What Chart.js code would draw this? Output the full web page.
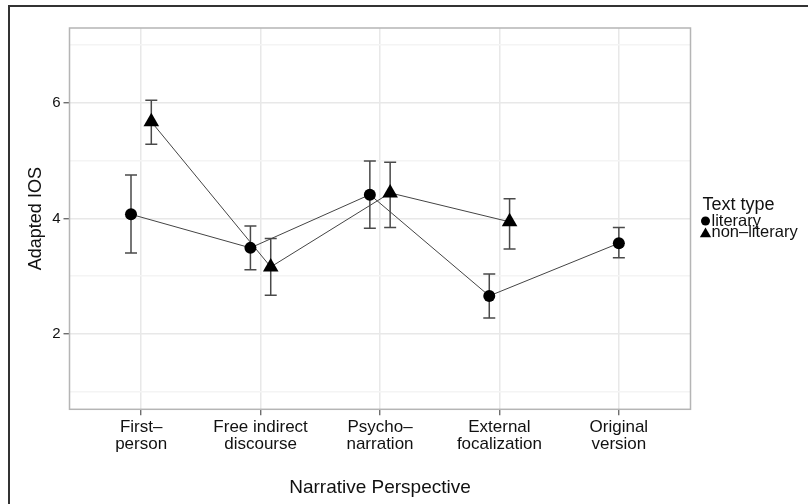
<!DOCTYPE html>
<html>
<head>
<meta charset="utf-8">
<script src="https://cdn.jsdelivr.net/npm/chart.js@4.4.0/dist/chart.umd.min.js"></script>
<style>
html, body { margin: 0; padding: 0; background: #fff; }
#wrap { position: relative; width: 808px; height: 504px; overflow: hidden; }
#frame { position: absolute; left: 8px; top: 5px; width: 820px; height: 520px; border-left: 2px solid #333; border-top: 2px solid #333; }
canvas { position: absolute; left: 0; top: 0; }
</style>
</head>
<body>
<div id="wrap"><div id="frame"></div><canvas id="iosChart" width="808" height="504"></canvas></div>
<script>
var categories = [["First–", "person"], ["Free indirect", "discourse"], ["Psycho–", "narration"], ["External", "focalization"], ["Original", "version"]];
var literary = [4.07, 3.49, 4.41, 2.66, 3.57];
var literaryLow = [3.40, 3.11, 3.83, 2.28, 3.32];
var literaryHigh = [4.75, 3.87, 4.99, 3.04, 3.84];
var nonLiterary = [5.67, 3.16, 4.44, 3.94, null];
var nonLiteraryLow = [5.28, 2.67, 3.84, 3.47, null];
var nonLiteraryHigh = [6.04, 3.65, 4.97, 4.34, null];
var yTicks = [1, 2, 3, 4, 5, 6, 7];
var yLabels = [2, 4, 6];

var FONT = '"Liberation Sans", Arial, sans-serif';
var TEXT = '#111';
Chart.defaults.font.family = FONT;

// dodge the two groups apart where both have a value
var dodge = 0.085;
function points(values, side) {
  return values.map(function (v, i) {
    var both = literary[i] != null && nonLiterary[i] != null;
    return { x: i + 1 + (both ? side * dodge : 0), y: v };
  });
}

var errorBars = {
  id: 'errorBars',
  beforeDatasetsDraw: function (chart) {
    var ctx = chart.ctx, xs = chart.scales.x, ys = chart.scales.y;
    ctx.save();
    ctx.strokeStyle = '#4a4a4a';
    ctx.lineWidth = 1.5;
    chart.data.datasets.forEach(function (ds) {
      ds.data.forEach(function (p, i) {
        if (p.y == null) return;
        var px = xs.getPixelForValue(p.x);
        var lo = ys.getPixelForValue(ds.low[i]);
        var hi = ys.getPixelForValue(ds.high[i]);
        ctx.beginPath();
        ctx.moveTo(px, lo); ctx.lineTo(px, hi);
        ctx.moveTo(px - 6, lo); ctx.lineTo(px + 6, lo);
        ctx.moveTo(px - 6, hi); ctx.lineTo(px + 6, hi);
        ctx.stroke();
      });
    });
    ctx.restore();
  }
};

var panelBorder = {
  id: 'panelBorder',
  afterDraw: function (chart) {
    var a = chart.chartArea, ctx = chart.ctx;
    ctx.save();
    ctx.strokeStyle = '#b5b5b5';
    ctx.lineWidth = 1.5;
    ctx.strokeRect(a.left, a.top, a.right - a.left, a.bottom - a.top);
    ctx.restore();
  }
};

var legendBox = {
  id: 'legendBox',
  afterDraw: function (chart) {
    var ctx = chart.ctx, left = chart.chartArea.right + 12;
    ctx.save();
    ctx.fillStyle = TEXT;
    ctx.textBaseline = 'middle';
    ctx.font = '18px ' + FONT;
    ctx.fillText('Text type', left, 205);
    ctx.font = '16.5px ' + FONT;
    chart.data.datasets.forEach(function (ds, i) {
      var cy = 221 + i * 11;
      ctx.fillStyle = '#000';
      Chart.helpers.drawPoint(ctx, { pointStyle: ds.pointStyle, radius: i ? 6.5 : 4.5, borderWidth: 0, rotation: 0 }, left + 3, cy + (i ? 2 : 0));
      ctx.fillStyle = TEXT;
      ctx.fillText(ds.label, left + 9, cy);
    });
    ctx.restore();
  }
};

var ctxL = document.getElementById('iosChart').getContext('2d');
var iosChart = new Chart(ctxL, {
  type: 'line',
  data: {
    datasets: [{
      label: 'literary',
      data: points(literary, -1),
      low: literaryLow,
      high: literaryHigh,
      pointStyle: 'circle',
      pointRadius: 6,
      borderColor: '#444',
      borderWidth: 1,
      backgroundColor: '#000',
      pointBackgroundColor: '#000',
      pointBorderWidth: 0
    }, {
      label: 'non–literary',
      data: points(nonLiterary, 1),
      low: nonLiteraryLow,
      high: nonLiteraryHigh,
      pointStyle: 'triangle',
      pointRadius: 9,
      borderColor: '#444',
      borderWidth: 1,
      backgroundColor: '#000',
      pointBackgroundColor: '#000',
      pointBorderWidth: 0
    }]
  },
  options: {
    responsive: false,
    animation: false,
    layout: { padding: { top: 28, right: 117.5, bottom: 0, left: 0 } },
    plugins: { legend: { display: false }, tooltip: { enabled: false } },
    scales: {
      x: {
        type: 'linear',
        min: 0.4,
        max: 5.6,
        afterBuildTicks: function (s) { s.ticks = categories.map(function (c, i) { return { value: i + 1 }; }); },
        afterFit: function (s) { s.height = 94.7; },
        ticks: {
          autoSkip: false, maxRotation: 0, padding: 4, color: TEXT,
          font: { size: 17, lineHeight: 1.0 },
          callback: function (v) { return categories[v - 1]; }
        },
        grid: { color: '#e8e8e8', lineWidth: 1.5, tickLength: 6, tickColor: '#555', tickWidth: 1.2 },
        border: { display: false },
        title: { display: true, text: 'Narrative Perspective', color: TEXT, font: { size: 19 }, padding: { top: 0, bottom: 5 } }
      },
      y: {
        min: 0.7,
        max: 7.29,
        afterBuildTicks: function (s) { s.ticks = yTicks.map(function (v) { return { value: v }; }); },
        afterFit: function (s) { s.width = 69.5; },
        ticks: {
          padding: 3, color: TEXT, font: { size: 15 },
          callback: function (v) { return yLabels.indexOf(v) >= 0 ? String(v) : ''; }
        },
        grid: {
          lineWidth: 1.5, tickLength: 6, tickWidth: 1.2,
          color: function (c) { return yLabels.indexOf(c.tick.value) >= 0 ? '#e8e8e8' : '#f4f4f4'; },
          tickColor: function (c) { return yLabels.indexOf(c.tick.value) >= 0 ? '#555' : 'rgba(0,0,0,0)'; }
        },
        border: { display: false },
        title: { display: true, text: 'Adapted IOS', color: TEXT, font: { size: 18 }, padding: { top: 25, bottom: 0 } }
      }
    }
  },
  plugins: [errorBars, panelBorder, legendBox]
});
</script>
</body>
</html>
